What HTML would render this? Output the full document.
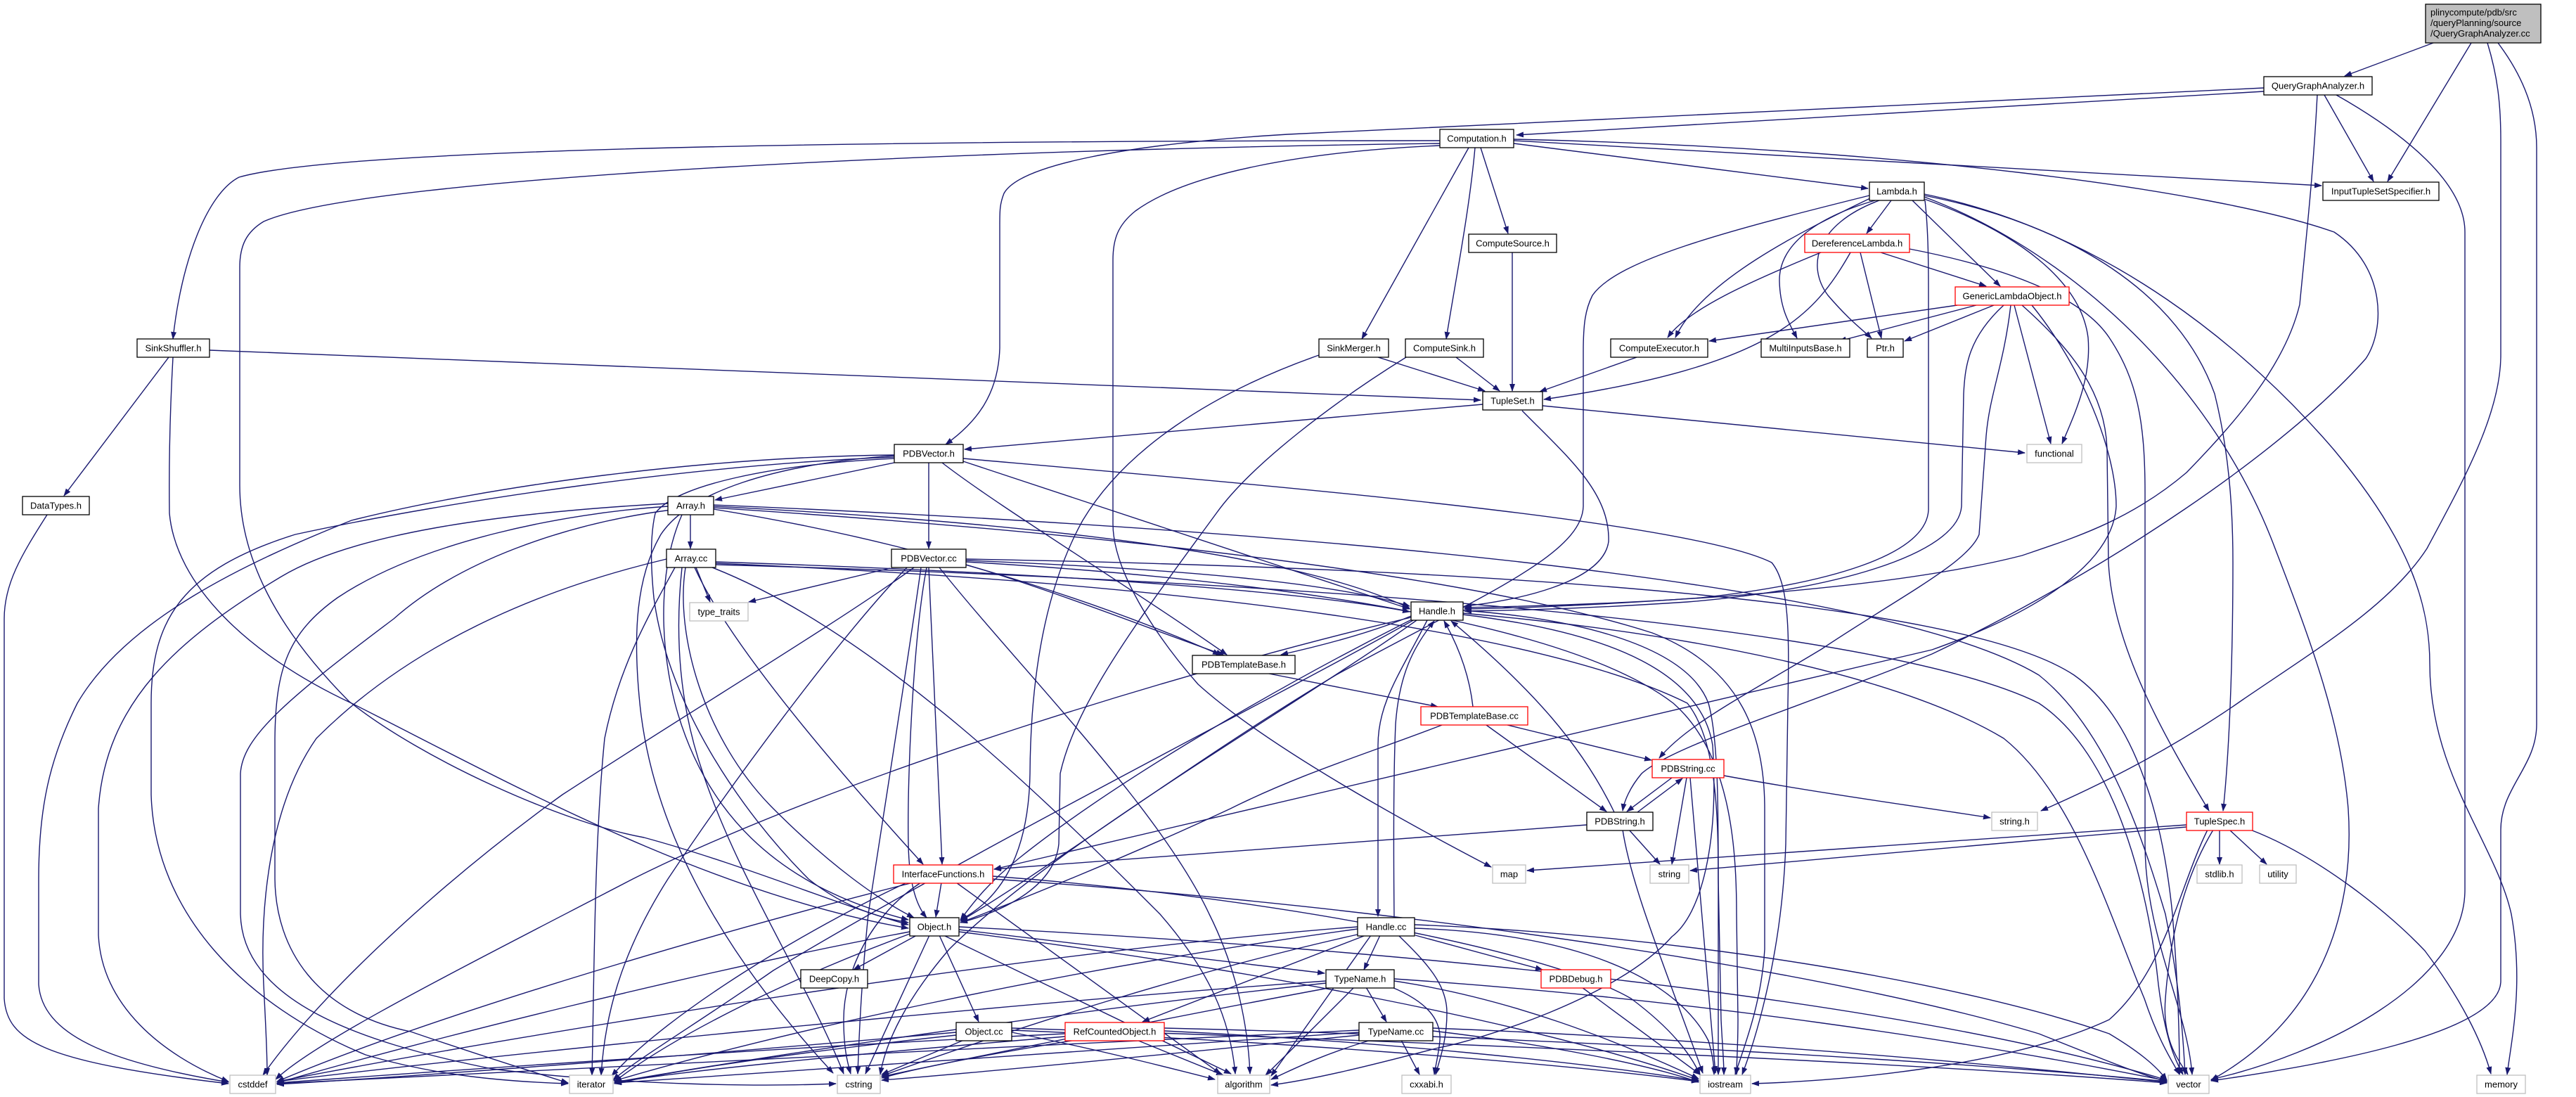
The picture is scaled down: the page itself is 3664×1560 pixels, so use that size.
<!DOCTYPE html>
<html><head><meta charset="utf-8"><style>
html,body{margin:0;padding:0;background:#fff;}
svg{display:block;}
text{font-family:"Liberation Sans",Arial,sans-serif;font-size:13px;fill:#000;}
.n{fill:#fff;stroke:#000;stroke-width:1.3;}
.g{fill:#fff;stroke:#bfbfbf;stroke-width:1.3;}
.r{fill:#fff;stroke:#ff0000;stroke-width:1.3;}
</style></head><body>
<svg width="3664" height="1560" viewBox="0 0 3664 1560" xmlns="http://www.w3.org/2000/svg">
<defs><marker id="a" markerUnits="userSpaceOnUse" markerWidth="11" markerHeight="8" refX="10" refY="4" orient="auto"><path d="M0,0 L11,4 L0,8 z" fill="#191970"/></marker></defs>
<g fill="none" stroke="#191970" stroke-width="1.4" marker-end="url(#a)">
<path d="M3461,61 L3335,108"/>
<path d="M3515,61 L3396,258"/>
<path d="M3538,61 C3553,110 3557,150 3557,200 L3557,505 C3557,590 3500,690 3452,780 C3400,860 3300,920 3190,995 C3090,1065 2990,1115 2903,1153"/>
<path d="M3553,61 C3590,110 3608,160 3608,210 L3608,1030 C3608,1090 3557,1120 3557,1180 L3557,1395 C3557,1470 3300,1515 3145,1537"/>
<path d="M3220,130 L2157,192"/>
<path d="M3220,125 L1832,191 C1600,205 1450,235 1428,275 C1422,290 1422,300 1422,320 L1422,495 C1420,560 1390,600 1345,632"/>
<path d="M3306,135 L3376,258"/>
<path d="M3296,135 C3290,250 3281,330 3271,433 C3250,520 3180,600 3110,672 C3030,740 2950,765 2876,790 C2700,835 2400,858 2083,864"/>
<path d="M3323,135 C3420,190 3506,260 3506,330 L3506,1265 C3506,1400 3300,1500 3145,1535"/>
<path d="M2048,200 C1400,200 500,206 340,252 C295,275 258,370 246,482"/>
<path d="M2048,204 C1400,212 520,250 375,315 C350,330 341,350 341,380 L341,690 C341,790 390,890 496,997 C600,1080 800,1170 916,1191 C1060,1230 1200,1290 1292,1315"/>
<path d="M2048,207 C1860,215 1690,245 1615,300 C1590,320 1583,340 1583,370 L1583,745 C1583,810 1640,900 1704,973 C1800,1060 2000,1170 2121,1233"/>
<path d="M2153,204 L2657,268"/>
<path d="M2153,200 L3302,264"/>
<path d="M2153,198 C2700,210 3150,270 3320,330 C3395,380 3392,470 3365,510 C3250,640 3000,810 2748,930 C2550,1010 2380,1060 2335,1100 C2318,1120 2310,1140 2308,1153"/>
<path d="M2089,210 L1937,482"/>
<path d="M2098,210 C2090,300 2070,400 2057,482"/>
<path d="M2106,210 L2145,332"/>
<path d="M2151,359 L2151,556"/>
<path d="M1960,508 L2112,556"/>
<path d="M2071,508 L2133,556"/>
<path d="M2328,508 L2190,557"/>
<path d="M1876,505 C1720,560 1600,640 1540,740 C1490,830 1466,950 1465,1100 C1463,1220 1420,1280 1366,1308"/>
<path d="M2000,508 C1900,570 1780,660 1730,730 C1620,880 1530,1000 1508,1100 L1506,1200 C1500,1260 1430,1295 1366,1312"/>
<path d="M2690,285 L2655,332"/>
<path d="M2720,285 L2845,407"/>
<path d="M2660,282 C2560,330 2420,400 2383,480"/>
<path d="M2667,285 C2580,310 2530,350 2531,400 C2532,440 2545,460 2556,481"/>
<path d="M2673,285 C2580,320 2570,380 2600,420 C2630,455 2648,468 2662,481"/>
<path d="M2738,285 C2743,330 2743,380 2743,420 L2743,725 C2740,790 2600,830 2420,850 C2250,862 2150,865 2083,866"/>
<path d="M2659,278 C2450,330 2300,370 2265,420 C2255,440 2252,460 2252,500 L2252,720 C2250,790 2100,850 1900,960 C1700,1080 1500,1230 1366,1310"/>
<path d="M2737,278 C2950,320 3100,420 3150,560 C3170,640 3176,720 3176,800 C3176,950 3170,1080 3162,1153"/>
<path d="M2876,434 C2950,500 2995,560 2997,640 L2999,800 C3005,920 3080,1050 3142,1153"/>
<path d="M2737,276 C3000,330 3200,500 3320,640 C3420,760 3456,850 3456,944 C3456,1100 3550,1200 3572,1300 C3590,1400 3572,1480 3566,1528"/>
<path d="M2737,280 C2950,360 3150,550 3236,780 C3290,920 3330,1030 3340,1150 C3350,1300 3300,1450 3145,1536"/>
<path d="M2737,283 C2870,330 2960,400 2970,480 C2975,540 2950,590 2933,631"/>
<path d="M2590,359 C2490,400 2400,440 2372,480"/>
<path d="M2675,359 L2825,407"/>
<path d="M2646,359 L2676,481"/>
<path d="M2632,359 C2580,450 2520,520 2196,568"/>
<path d="M2716,354 C2850,380 2960,420 3000,480 C3040,540 3051,600 3051,700 L3051,1200 C3051,1330 3110,1430 3118,1528"/>
<path d="M2784,434 L2431,485"/>
<path d="M2811,434 L2616,485"/>
<path d="M2836,434 L2709,485"/>
<path d="M2865,434 L2917,631"/>
<path d="M2850,434 C2800,480 2795,520 2793,560 L2790,720 C2785,790 2600,840 2400,856 C2250,866 2150,868 2083,869"/>
<path d="M2860,434 C2850,520 2830,560 2825,620 L2815,760 C2800,800 2700,850 2591,923 C2480,990 2400,1030 2360,1078"/>
<path d="M2890,434 C2960,520 3010,640 3010,720 C3005,800 2900,870 2748,924 L1414,1236"/>
<path d="M1272,658 L1017,711"/>
<path d="M1321,658 L1321,780"/>
<path d="M1340,658 C1420,720 1600,830 1745,931"/>
<path d="M1370,656 L2005,866"/>
<path d="M1370,652 C1800,690 2400,740 2520,800 C2545,830 2545,900 2543,1000 L2540,1200 C2535,1350 2500,1470 2478,1528"/>
<path d="M2109,575 L1372,639"/>
<path d="M2194,577 L2880,644"/>
<path d="M2165,584 C2230,650 2290,700 2288,770 C2280,830 2150,855 2083,862"/>
<path d="M240,508 L91,705"/>
<path d="M298,498 L2106,569"/>
<path d="M246,508 C242,580 240,650 241,730 C250,830 350,930 500,1000 C700,1100 1000,1270 1292,1320"/>
<path d="M67,732 C30,790 6,830 6,880 L6,1420 C10,1480 60,1510 325,1541"/>
<path d="M1272,647 C1000,650 700,690 500,740 C350,800 180,880 110,1000 C70,1080 55,1150 55,1250 L55,1400 C60,1470 150,1510 325,1539"/>
<path d="M1272,650 C1000,660 650,710 420,760 C260,810 215,880 215,1000 L215,1130 C220,1300 350,1430 520,1500 C620,1530 720,1538 808,1541"/>
<path d="M1272,652 C1100,660 960,690 932,730 C925,760 925,800 930,850 C950,1000 1050,1150 1150,1250 C1200,1290 1250,1305 1292,1312"/>
<path d="M1272,648 C1100,660 980,700 940,760 C905,820 900,900 910,1000 C930,1200 1050,1380 1185,1526"/>
<path d="M982,732 L982,780"/>
<path d="M1015,720 C1500,745 1850,790 2005,865"/>
<path d="M1015,724 C1300,770 1550,850 1735,931"/>
<path d="M1015,722 C1600,760 2100,820 2350,900 C2480,950 2510,1050 2510,1150 L2510,1350 C2505,1430 2480,1490 2468,1528"/>
<path d="M970,732 C940,800 935,900 960,1000 C1000,1150 1100,1260 1292,1308"/>
<path d="M950,716 C700,730 500,760 400,820 C250,910 150,1000 140,1150 L140,1330 C145,1430 230,1500 325,1538"/>
<path d="M950,720 C800,730 600,770 480,850 C410,900 392,950 391,1050 L391,1250 C392,1350 450,1440 584,1467 C680,1500 760,1525 808,1540"/>
<path d="M955,725 C800,745 650,800 560,880 C400,1000 345,1050 342,1100 L342,1300 C345,1420 500,1480 700,1520 C900,1545 1100,1545 1189,1541"/>
<path d="M1015,718 C2000,760 2700,840 2900,960 C3000,1040 3050,1200 3080,1300 C3100,1400 3105,1470 3108,1528"/>
<path d="M990,807 L1010,856"/>
<path d="M1018,799 C1500,815 1850,840 2005,870"/>
<path d="M988,807 C1030,900 1150,1050 1313,1229"/>
<path d="M1013,807 C1250,900 1500,1150 1650,1300 C1720,1380 1750,1450 1757,1527"/>
<path d="M975,807 C960,900 1000,1050 1100,1150 C1180,1230 1250,1280 1300,1305"/>
<path d="M970,807 C960,900 965,1000 1000,1100 C1050,1250 1150,1400 1200,1527"/>
<path d="M948,795 C800,830 600,900 450,1050 C380,1150 370,1300 375,1400 C378,1460 380,1500 380,1529"/>
<path d="M960,807 C920,880 880,950 860,1050 C845,1200 845,1400 842,1529"/>
<path d="M1018,801 C1700,830 2200,900 2400,1000 C2440,1050 2444,1150 2444,1250 L2444,1400 C2444,1460 2444,1500 2444,1528"/>
<path d="M1018,803 C2000,830 2700,900 2900,1000 C3020,1080 3060,1300 3070,1400 C3080,1480 3095,1510 3105,1528"/>
<path d="M1266,808 L1065,856"/>
<path d="M1321,807 L1340,1229"/>
<path d="M1374,797 C1700,810 1900,830 2005,862"/>
<path d="M1374,803 C1500,840 1650,900 1740,931"/>
<path d="M1300,807 C1200,880 1000,1000 800,1130 C620,1260 450,1420 374,1529"/>
<path d="M1290,807 C1200,900 1050,1100 950,1250 C880,1360 860,1450 855,1529"/>
<path d="M1310,807 C1290,950 1250,1200 1235,1300 C1225,1400 1222,1470 1220,1527"/>
<path d="M1318,807 C1300,900 1290,1100 1292,1200 C1293,1260 1305,1290 1318,1305"/>
<path d="M1336,807 C1450,950 1650,1150 1720,1300 C1760,1380 1775,1460 1778,1527"/>
<path d="M1374,799 C1900,830 2250,900 2380,1000 C2460,1070 2470,1200 2470,1300 L2472,1450 C2472,1490 2470,1510 2470,1528"/>
<path d="M1374,795 C2200,810 2800,860 2950,960 C3050,1030 3080,1200 3090,1300 C3098,1400 3100,1480 3100,1528"/>
<path d="M2007,876 C1950,900 1880,918 1822,931"/>
<path d="M2030,882 C1990,960 1960,1000 1960,1060 L1960,1303"/>
<path d="M2010,880 C1850,960 1600,1100 1450,1220 C1400,1260 1380,1290 1366,1308"/>
<path d="M2007,878 C1700,950 1200,1100 900,1250 C650,1380 450,1480 392,1535"/>
<path d="M2012,881 C1800,1000 1400,1200 1100,1380 C1000,1450 900,1510 872,1536"/>
<path d="M2015,882 C1850,1000 1500,1200 1350,1350 C1290,1420 1260,1480 1252,1528"/>
<path d="M2081,874 C2300,900 2420,960 2436,1060 C2445,1200 2420,1300 2378,1332 C2300,1420 2100,1480 2046,1490 C1950,1515 1870,1535 1808,1543"/>
<path d="M2081,868 C2250,880 2400,920 2430,1000 C2444,1050 2444,1150 2444,1250 L2448,1450 C2450,1490 2452,1510 2452,1528"/>
<path d="M2081,872 C2400,900 2700,960 2850,1050 C2950,1130 3000,1300 3050,1420 C3070,1480 3090,1510 3100,1528"/>
<path d="M1800,957 L2045,1005"/>
<path d="M2095,1005 C2090,960 2075,920 2054,883"/>
<path d="M2114,1031 L2285,1154"/>
<path d="M2144,1031 L2349,1081"/>
<path d="M2051,1031 C1950,1070 1850,1100 1750,1150 C1600,1220 1450,1280 1366,1312"/>
<path d="M2378,1106 L2314,1154"/>
<path d="M2399,1106 L2378,1229"/>
<path d="M2404,1106 L2440,1526"/>
<path d="M2452,1103 C2600,1130 2750,1150 2831,1163"/>
<path d="M2329,1155 L2393,1107"/>
<path d="M2317,1180 L2361,1229"/>
<path d="M2308,1180 C2320,1260 2370,1380 2422,1526"/>
<path d="M2257,1173 L1414,1236"/>
<path d="M2296,1155 C2250,1060 2180,980 2064,883"/>
<path d="M3157,1180 L3157,1229"/>
<path d="M3171,1180 L3224,1229"/>
<path d="M3110,1173 L2172,1238"/>
<path d="M3110,1176 L2404,1238"/>
<path d="M3148,1180 C3100,1260 3085,1350 3080,1420 C3075,1480 3100,1510 3112,1528"/>
<path d="M3201,1180 C3300,1218 3400,1300 3449,1352 C3500,1420 3530,1480 3543,1527"/>
<path d="M3140,1180 C3100,1260 3080,1380 3000,1450 C2850,1520 2600,1538 2492,1541"/>
<path d="M1339,1255 L1331,1304"/>
<path d="M1360,1255 L1736,1527"/>
<path d="M1412,1246 C1800,1275 2200,1350 2320,1420 C2380,1465 2405,1500 2418,1528"/>
<path d="M1412,1250 C2000,1290 2600,1380 2900,1470 C3000,1510 3050,1530 3082,1538"/>
<path d="M1299,1255 C1000,1330 600,1450 394,1538"/>
<path d="M1290,1255 C1150,1320 950,1440 870,1530"/>
<path d="M1310,1255 C1240,1300 1200,1380 1200,1450 C1200,1490 1205,1510 1210,1527"/>
<path d="M1304,1330 L1214,1379"/>
<path d="M1336,1330 L1392,1453"/>
<path d="M1364,1322 L1884,1384"/>
<path d="M1322,1330 L1231,1527"/>
<path d="M1342,1330 L1751,1527"/>
<path d="M1364,1325 C1800,1380 2200,1460 2416,1536"/>
<path d="M1364,1318 C2000,1350 2700,1420 3082,1536"/>
<path d="M1294,1325 C1000,1380 600,1480 394,1540"/>
<path d="M1294,1328 C1100,1400 950,1480 874,1538"/>
<path d="M1371,1479 L1254,1528"/>
<path d="M1439,1468 C1550,1490 1650,1515 1728,1535"/>
<path d="M1439,1465 C1800,1480 2200,1510 2416,1538"/>
<path d="M1439,1462 C2000,1480 2700,1510 3082,1540"/>
<path d="M1360,1468 C1000,1500 600,1530 394,1542"/>
<path d="M1360,1472 C1100,1500 950,1525 874,1541"/>
<path d="M1617,1479 L1740,1529"/>
<path d="M1530,1479 C1400,1500 1300,1520 1254,1533"/>
<path d="M1515,1470 C1100,1490 600,1525 394,1540"/>
<path d="M1515,1474 C1200,1500 950,1525 874,1540"/>
<path d="M1656,1466 C1950,1480 2250,1510 2416,1537"/>
<path d="M1656,1462 C2200,1475 2800,1510 3082,1538"/>
<path d="M1983,1305 C1982,1200 1982,1100 1985,1030 C1990,960 2010,920 2040,883"/>
<path d="M1963,1330 L1940,1379"/>
<path d="M2013,1330 L2194,1379"/>
<path d="M1940,1331 L1625,1453"/>
<path d="M1990,1331 C2030,1370 2058,1400 2058,1440 C2058,1480 2048,1505 2042,1528"/>
<path d="M2012,1320 C2300,1330 2400,1420 2430,1480 C2436,1500 2438,1515 2438,1528"/>
<path d="M2012,1315 C2400,1330 2800,1400 3000,1470 C3050,1500 3070,1520 3082,1536"/>
<path d="M1931,1318 C1500,1350 800,1460 394,1538"/>
<path d="M1931,1321 C1500,1380 1100,1470 874,1537"/>
<path d="M1935,1328 C1700,1380 1450,1460 1254,1530"/>
<path d="M1950,1330 C1900,1400 1850,1470 1808,1530"/>
<path d="M1943,1404 L1972,1453"/>
<path d="M1980,1404 C2030,1425 2050,1450 2048,1480 C2046,1500 2042,1515 2040,1528"/>
<path d="M1983,1395 C2150,1420 2300,1480 2416,1534"/>
<path d="M1983,1392 C2400,1420 2800,1480 3082,1537"/>
<path d="M1886,1395 C1400,1430 700,1500 394,1538"/>
<path d="M1886,1398 C1500,1440 1100,1500 874,1539"/>
<path d="M1895,1404 C1700,1440 1400,1500 1254,1531"/>
<path d="M1926,1404 C1880,1450 1830,1500 1800,1529"/>
<path d="M1993,1479 L2019,1528"/>
<path d="M2038,1466 C2200,1485 2350,1515 2416,1539"/>
<path d="M2038,1462 C2500,1480 2900,1520 3082,1539"/>
<path d="M1933,1465 C1400,1490 700,1525 394,1541"/>
<path d="M1933,1468 C1500,1495 1100,1525 874,1540"/>
<path d="M1933,1472 C1700,1495 1400,1525 1254,1536"/>
<path d="M1950,1479 C1880,1500 1840,1520 1808,1535"/>
<path d="M2250,1404 L2418,1528"/>
</g>
<g>
<rect x="3450" y="6" width="164" height="55" fill="#bfbfbf" stroke="#000" stroke-width="1.3"/>
<text x="3457" y="22">plinycompute/pdb/src</text>
<text x="3457" y="37">/queryPlanning/source</text>
<text x="3457" y="52">/QueryGraphAnalyzer.cc</text>
</g>
<g text-anchor="middle">
<rect class="n" x="3220" y="109" width="154" height="26"/><text x="3297" y="126.5">QueryGraphAnalyzer.h</text>
<rect class="n" x="2048" y="184" width="105" height="26"/><text x="2100.5" y="201.5">Computation.h</text>
<rect class="n" x="3304" y="259" width="165" height="26"/><text x="3386.5" y="276.5">InputTupleSetSpecifier.h</text>
<rect class="n" x="2659" y="259" width="78" height="26"/><text x="2698" y="276.5">Lambda.h</text>
<rect class="n" x="2089" y="333" width="125" height="26"/><text x="2151.5" y="350.5">ComputeSource.h</text>
<rect class="r" x="2567" y="333" width="149" height="26"/><text x="2641.5" y="350.5">DereferenceLambda.h</text>
<rect class="r" x="2781" y="408" width="162" height="26"/><text x="2862" y="425.5">GenericLambdaObject.h</text>
<rect class="n" x="195" y="482" width="103" height="26"/><text x="246.5" y="499.5">SinkShuffler.h</text>
<rect class="n" x="1876" y="482" width="99" height="26"/><text x="1925.5" y="499.5">SinkMerger.h</text>
<rect class="n" x="1999" y="482" width="111" height="26"/><text x="2054.5" y="499.5">ComputeSink.h</text>
<rect class="n" x="2291" y="482" width="138" height="26"/><text x="2360" y="499.5">ComputeExecutor.h</text>
<rect class="n" x="2505" y="482" width="126" height="26"/><text x="2568" y="499.5">MultiInputsBase.h</text>
<rect class="n" x="2656" y="482" width="51" height="26"/><text x="2681.5" y="499.5">Ptr.h</text>
<rect class="n" x="2109" y="557" width="85" height="26"/><text x="2151.5" y="574.5">TupleSet.h</text>
<rect class="g" x="2883" y="632" width="78" height="26"/><text x="2922" y="649.5">functional</text>
<rect class="n" x="1272" y="632" width="98" height="26"/><text x="1321" y="649.5">PDBVector.h</text>
<rect class="n" x="32" y="706" width="95" height="26"/><text x="79.5" y="723.5">DataTypes.h</text>
<rect class="n" x="950" y="706" width="65" height="26"/><text x="982.5" y="723.5">Array.h</text>
<rect class="n" x="948" y="781" width="70" height="26"/><text x="983" y="798.5">Array.cc</text>
<rect class="n" x="1268" y="781" width="106" height="26"/><text x="1321" y="798.5">PDBVector.cc</text>
<rect class="g" x="981" y="857" width="83" height="26"/><text x="1022.5" y="874.5">type_traits</text>
<rect class="n" x="2007" y="856" width="74" height="26"/><text x="2044" y="873.5">Handle.h</text>
<rect class="n" x="1696" y="932" width="146" height="26"/><text x="1769" y="949.5">PDBTemplateBase.h</text>
<rect class="r" x="2021" y="1005" width="152" height="26"/><text x="2097" y="1022.5">PDBTemplateBase.cc</text>
<rect class="r" x="2350" y="1080" width="102" height="26"/><text x="2401" y="1097.5">PDBString.cc</text>
<rect class="n" x="2257" y="1155" width="94" height="26"/><text x="2304" y="1172.5">PDBString.h</text>
<rect class="g" x="2833" y="1155" width="65" height="26"/><text x="2865.5" y="1172.5">string.h</text>
<rect class="r" x="3110" y="1155" width="94" height="26"/><text x="3157" y="1172.5">TupleSpec.h</text>
<rect class="r" x="1271" y="1230" width="141" height="26"/><text x="1341.5" y="1247.5">InterfaceFunctions.h</text>
<rect class="g" x="2123" y="1230" width="47" height="26"/><text x="2146.5" y="1247.5">map</text>
<rect class="g" x="2347" y="1230" width="55" height="26"/><text x="2374.5" y="1247.5">string</text>
<rect class="g" x="3125" y="1230" width="64" height="26"/><text x="3157" y="1247.5">stdlib.h</text>
<rect class="g" x="3214" y="1230" width="52" height="26"/><text x="3240" y="1247.5">utility</text>
<rect class="n" x="1294" y="1305" width="70" height="26"/><text x="1329" y="1322.5">Object.h</text>
<rect class="n" x="1931" y="1305" width="81" height="26"/><text x="1971.5" y="1322.5">Handle.cc</text>
<rect class="n" x="1139" y="1379" width="95" height="26"/><text x="1186.5" y="1396.5">DeepCopy.h</text>
<rect class="n" x="1886" y="1379" width="97" height="26"/><text x="1934.5" y="1396.5">TypeName.h</text>
<rect class="r" x="2192" y="1379" width="99" height="26"/><text x="2241.5" y="1396.5">PDBDebug.h</text>
<rect class="n" x="1360" y="1454" width="79" height="26"/><text x="1399.5" y="1471.5">Object.cc</text>
<rect class="r" x="1515" y="1454" width="141" height="26"/><text x="1585.5" y="1471.5">RefCountedObject.h</text>
<rect class="n" x="1933" y="1454" width="105" height="26"/><text x="1985.5" y="1471.5">TypeName.cc</text>
<rect class="g" x="327" y="1529" width="65" height="26"/><text x="359.5" y="1546.5">cstddef</text>
<rect class="g" x="810" y="1529" width="62" height="26"/><text x="841" y="1546.5">iterator</text>
<rect class="g" x="1191" y="1529" width="61" height="26"/><text x="1221.5" y="1546.5">cstring</text>
<rect class="g" x="1732" y="1529" width="74" height="26"/><text x="1769" y="1546.5">algorithm</text>
<rect class="g" x="1994" y="1529" width="70" height="26"/><text x="2029" y="1546.5">cxxabi.h</text>
<rect class="g" x="2418" y="1529" width="72" height="26"/><text x="2454" y="1546.5">iostream</text>
<rect class="g" x="3084" y="1529" width="58" height="26"/><text x="3113" y="1546.5">vector</text>
<rect class="g" x="3523" y="1529" width="69" height="26"/><text x="3557.5" y="1546.5">memory</text>
</g>
</svg>
</body></html>
